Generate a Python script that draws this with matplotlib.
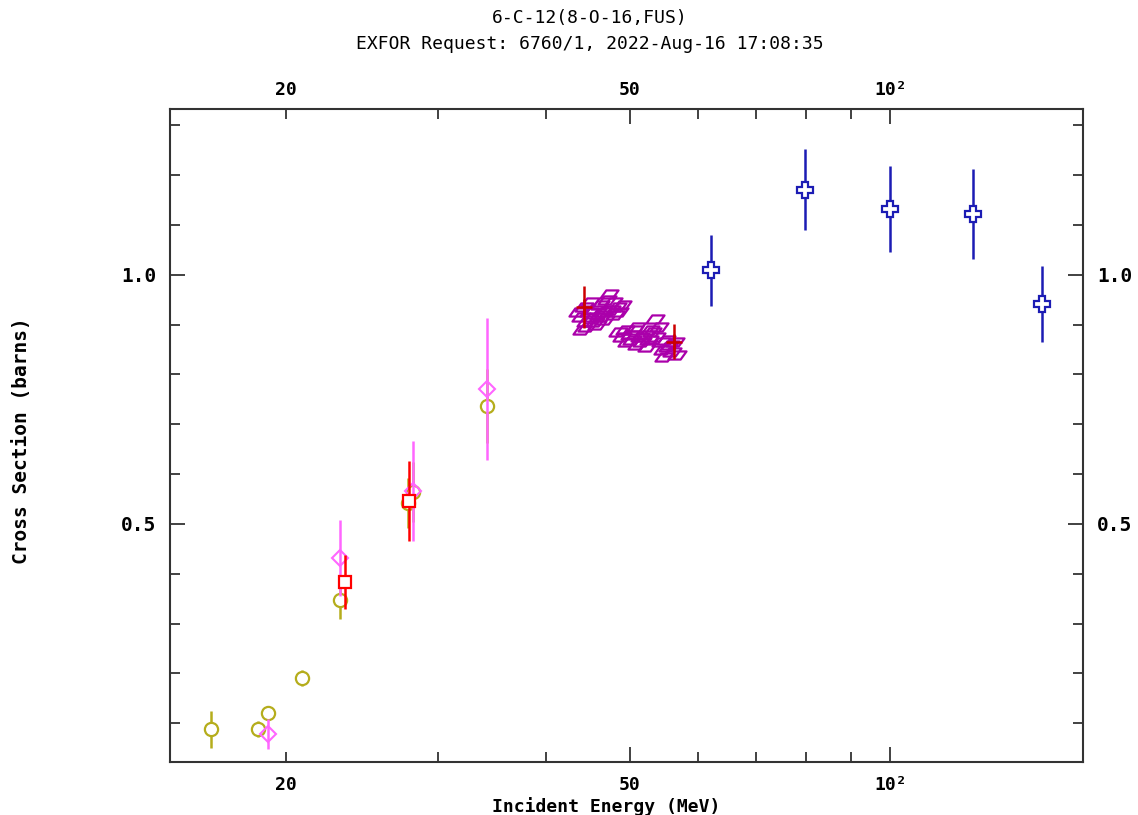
import numpy as np
import matplotlib.pyplot as plt
from matplotlib.path import Path
from matplotlib.ticker import FixedLocator, NullFormatter

# olive circles
e_olive = [16.4, 18.6, 19.1, 20.9, 23.1, 27.7, 28.1, 34.15]
s_olive = [0.088, 0.088, 0.120, 0.191, 0.347, 0.542, 0.564, 0.737]
d_olive = [0.037, 0.016, 0.012, 0.016, 0.038, 0.05, 0.06, 0.075]

# pink diamonds
e_pink = [19.1, 23.1, 28.1, 34.15]
s_pink = [0.079, 0.432, 0.566, 0.771]
d_pink = [0.03, 0.076, 0.10, 0.143]

# red squares
e_red = [23.4, 27.8]
s_red = [0.383, 0.546]
d_red = [0.054, 0.08]

# dark red crosses
e_dred = [44.2, 56.2]
s_dred = [0.936, 0.866]
d_dred = [0.042, 0.035]

# purple cluster
e_purp = [43.6, 43.9, 44.2, 44.5, 44.8, 45.0, 45.3, 45.5, 45.8, 46.0,
          46.2, 46.5, 46.8, 47.0, 47.3, 47.5, 47.8, 48.0, 48.3, 48.6,
          49.0, 44.0, 44.6, 45.6, 46.4,
          48.5, 49.0, 49.3, 49.6, 50.0, 50.3, 50.6, 51.0, 51.3, 51.6,
          52.0, 52.3, 52.6, 53.0, 53.4, 53.6, 54.0, 54.3, 54.6, 55.0,
          55.3, 55.7, 56.0, 56.3, 56.6, 50.8, 52.8, 54.8]
s_purp = [0.925, 0.915, 0.935, 0.905, 0.925, 0.945, 0.915, 0.930, 0.900, 0.920,
          0.940, 0.925, 0.910, 0.950, 0.962, 0.930, 0.945, 0.920, 0.935, 0.925,
          0.940, 0.890, 0.895, 0.905, 0.915,
          0.885, 0.875, 0.890, 0.865, 0.880, 0.870, 0.890, 0.860, 0.875, 0.865,
          0.880, 0.855, 0.870, 0.885, 0.912, 0.875, 0.895, 0.865, 0.850, 0.870,
          0.855, 0.860, 0.845, 0.865, 0.840, 0.895, 0.890, 0.835]

# blue crosses
e_blue = [62.0, 79.6, 100.0, 124.6, 149.7]
s_blue = [1.009, 1.171, 1.132, 1.122, 0.942]
d_blue = [0.071, 0.081, 0.086, 0.09, 0.076]

x_major = [20, 50, 100]
x_major_lab = ['20', '50', '10²']
x_minor = [30, 40, 60, 70, 80, 90]

mono = 'DejaVu Sans Mono'

fig = plt.figure(figsize=(11.38, 8.15), dpi=100)
ax = fig.add_axes([170/1138, 1 - 762/815, 913/1138, 653/815])

ax.errorbar(e_olive, s_olive, yerr=d_olive, fmt='o', ms=9.5, mfc='white', mec='#b5ad1c',
            mew=1.6, ecolor='#b5ad1c', elinewidth=1.8, capsize=0, zorder=3)
ax.errorbar(e_pink, s_pink, yerr=d_pink, fmt='D', ms=8.5, mfc='none', mec='#ff66ff',
            mew=1.5, ecolor='#ff66ff', elinewidth=1.8, capsize=0, zorder=4)
ax.errorbar(e_red, s_red, yerr=d_red, fmt='s', ms=8, mfc='white', mec='#ff0000',
            mew=1.6, ecolor='#ff0000', elinewidth=1.8, capsize=0, zorder=5)

para = Path([(-1, -0.45), (0.35, -0.45), (1, 0.45), (-0.35, 0.45), (-1, -0.45)],
            [Path.MOVETO, Path.LINETO, Path.LINETO, Path.LINETO, Path.CLOSEPOLY])
ax.plot(e_purp, s_purp, ls='none', marker=para, ms=13, mfc='none', mec='#aa00aa',
        mew=1.6, zorder=4)
ax.errorbar(e_dred, s_dred, yerr=d_dred, fmt='+', ms=11, mec='#cc0000', mew=1.8,
            ecolor='#cc0000', elinewidth=1.8, capsize=0, zorder=5)

ax.errorbar(e_blue, s_blue, yerr=d_blue, fmt='P', ms=12, mfc='white', mec='#1c1cb4',
            mew=1.6, ecolor='#1c1cb4', elinewidth=1.8, capsize=0, zorder=3)

ax.set_xscale('log')
ax.set_xlim(14.7, 167)
ax.set_ylim(0.022, 1.333)

ax.xaxis.set_major_locator(FixedLocator(x_major))
ax.xaxis.set_minor_locator(FixedLocator(x_minor))
ax.set_xticklabels(x_major_lab)
ax.xaxis.set_minor_formatter(NullFormatter())
ax.set_yticks([0.5, 1.0])
ax.set_yticklabels(['0.5', '1.0'])
ax.set_yticks(np.arange(0.1, 1.31, 0.1), minor=True)

ax.tick_params(which='both', direction='in', top=True, right=True,
               labelright=True, width=1.3, color='#333333')
ax.tick_params(which='major', length=11)
ax.tick_params(which='minor', length=7)
ax.tick_params(axis='x', which='major', pad=10, labelsize=13)
ax.tick_params(axis='y', which='major', pad=10, labelsize=14)
# 20 has a short tick like the minor ones
ax.xaxis.get_major_ticks()[0].tick1line.set_markersize(7)
ax.xaxis.get_major_ticks()[0].tick2line.set_markersize(7)

top = ax.secondary_xaxis('top')
top.xaxis.set_major_locator(FixedLocator(x_major))
top.xaxis.set_minor_locator(FixedLocator([]))
top.set_xticklabels(x_major_lab)
top.tick_params(axis='x', length=0, pad=7, labelsize=13)
top.spines['top'].set_visible(False)

for lab in ax.get_xticklabels() + ax.get_yticklabels() + top.get_xticklabels():
    lab.set_family(mono)
    lab.set_weight('bold')

for sp in ax.spines.values():
    sp.set_linewidth(1.5)
    sp.set_color('#333333')

fig.text(590/1138, 1 - 18/815, '6-C-12(8-O-16,FUS)', ha='center', va='center',
         family=mono, fontsize=13)
fig.text(590/1138, 1 - 44/815, 'EXFOR Request: 6760/1, 2022-Aug-16 17:08:35',
         ha='center', va='center', family=mono, fontsize=13)
fig.text(606/1138, 1 - 807/815, 'Incident Energy (MeV)', ha='center', va='center',
         family=mono, weight='bold', fontsize=13)
fig.text(22/1138, 1 - 441/815, 'Cross Section (barns)', ha='center', va='center',
         rotation=90, family=mono, weight='bold', fontsize=14)

fig.savefig('out.png', dpi=100)
